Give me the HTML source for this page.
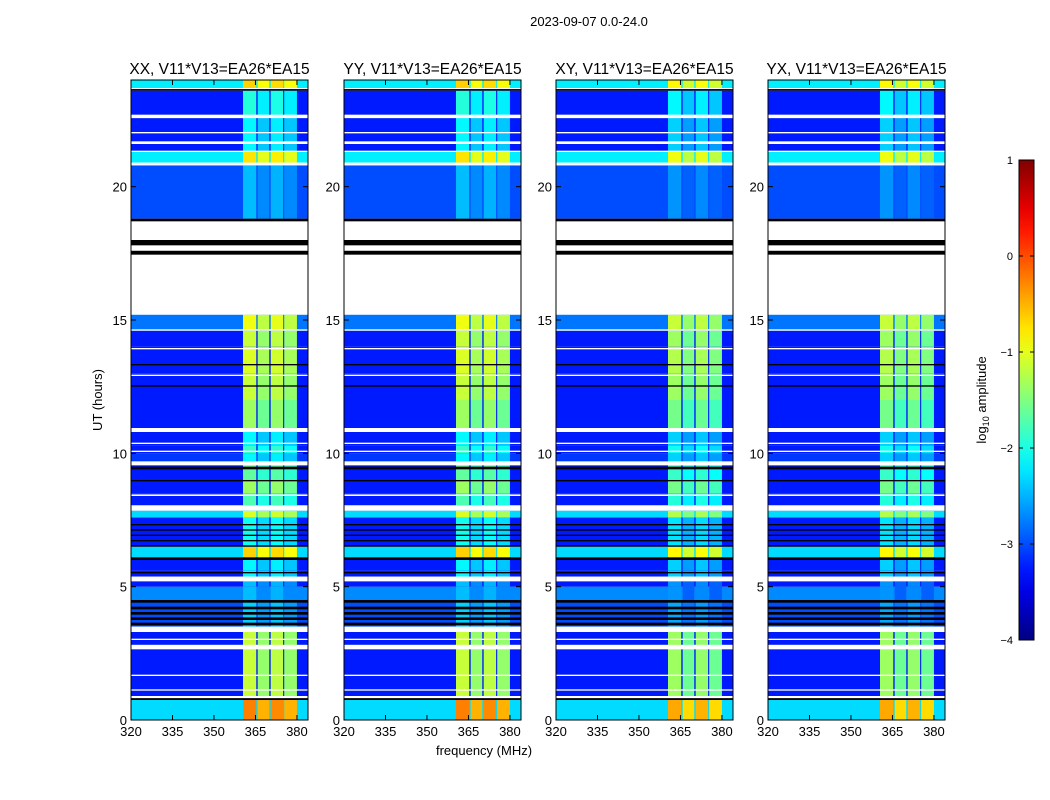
<!DOCTYPE html>
<html><head><meta charset="utf-8"><style>
body{margin:0;background:#fff;}
svg{display:block;font-family:"Liberation Sans",sans-serif;}
</style></head><body>
<svg id="fig" width="1050" height="800">
<text x="589" y="26" font-size="13" text-anchor="middle">2023-09-07 0.0-24.0</text>
<text x="484" y="755" font-size="13" text-anchor="middle">frequency (MHz)</text>
<text transform="translate(102,400) rotate(-90)" font-size="13" text-anchor="middle">UT (hours)</text>
<text transform="translate(986,400) rotate(-90)" font-size="13" text-anchor="middle">log<tspan font-size="9" dy="3">10</tspan><tspan dy="-3"> amplitude</tspan></text>
</svg>
<script>
// ---- data ----
const panelTitles = ["XX, V11*V13=EA26*EA15","YY, V11*V13=EA26*EA15","XY, V11*V13=EA26*EA15","YX, V11*V13=EA26*EA15"];
const panelBandOffset = [0, 0, -0.2, -0.2];
const xTicks = [320,335,350,365,380];
const yTicks = [0,5,10,15,20];
const cbTicks = [1,0,-1,-2,-3,-4];
// time segments [startHour, endHour, baseLog, bandLog]
const segStart = [0, 0.9, 3.5, 4.5, 5.0, 5.2, 5.6, 6.0, 6.5, 7.6, 7.85, 8.05, 8.5, 9.0, 9.6, 10.0, 10.3, 10.95, 12.0, 13.0, 14.0, 14.6, 18.8, 20.9, 21.3, 21.6, 22.0, 22.6, 23.7];
const segEnd   = [0.8, 3.3, 4.5, 5.0, 5.2, 5.6, 6.0, 6.5, 7.6, 7.85, 8.05, 8.5, 9.0, 9.6, 10.0, 10.3, 10.8, 12.0, 13.0, 14.0, 14.6, 15.2, 20.8, 21.3, 21.6, 22.0, 22.6, 23.6, 24.0];
const segBase  = [-2.3, -3.25, -3.0, -2.7, -3.25, -3.25, -3.25, -2.3, -3.25, -2.3, -2.8, -3.25, -3.25, -3.25, -3.1, -3.25, -3.25, -3.25, -3.25, -3.25, -3.25, -2.8, -3.0, -2.2, -3.25, -3.25, -3.25, -3.25, -2.2];
const segBand  = [-0.4, -1.3, -2.5, -2.6, -2.6, -2.3, -2.3, -0.8, -2.2, -1.2, -2.3, -1.9, -1.5, -1.8, -2.3, -2.0, -2.3, -1.5, -1.3, -1.2, -1.3, -1.1, -2.6, -0.9, -2.3, -2.3, -2.3, -2.1, -0.8];
// flagged rows [startHour, endHour, type] w=white k=black
const flagStart = [0.8, 0.75, 1.1, 1.65, 2.65, 3.0, 3.3, 3.55, 3.75, 3.95, 4.15, 4.4, 5.2, 5.5, 6.0, 6.5, 6.7, 6.9, 7.1, 7.3, 7.85, 8.4, 8.95, 9.4, 9.55, 10.05, 10.35, 10.8, 12.5, 12.9, 13.3, 13.9, 14.6, 15.2, 17.45, 17.6, 17.8, 18.0, 18.7, 20.8, 21.3, 21.6, 22.0, 22.57, 23.6];
const flagEnd   = [0.9, 0.82, 1.15, 1.7, 2.82, 3.05, 3.5, 3.65, 3.85, 4.05, 4.25, 4.5, 5.38, 5.55, 6.1, 6.55, 6.75, 6.95, 7.15, 7.35, 8.05, 8.46, 9.0, 9.5, 9.7, 10.1, 10.4, 10.95, 12.55, 12.95, 13.35, 13.95, 14.65, 17.45, 17.6, 17.8, 18.0, 18.7, 18.8, 20.9, 21.35, 21.7, 22.05, 22.7, 23.66];
const flagType  = ["w","k","w","w","w","w","w","k","k","k","k","k","w","k","k","k","k","k","k","k","w","w","k","k","w","w","w","w","k","w","k","w","w","w","k","w","k","w","k","w","w","w","w","w","k"];
// RFI band columns [startMHz,endMHz,offset]
const colStart = [360.5, 365.8, 370.5, 375.4];
const colEnd   = [365.3, 370.0, 375.0, 380.0];
const colOff   = [0.15, -0.1, 0.1, -0.1];

// ---- helpers ----
const NS="http://www.w3.org/2000/svg";
const svg=document.getElementById('fig');
function jet(v){
  let t=Math.max(0,Math.min(1,(v+4)/5));
  const c=x=>Math.round(255*Math.max(0,Math.min(1,1.5-Math.abs(4*t-x))));
  return `rgb(${c(3)},${c(2)},${c(1)})`;
}
function mk(tag,attrs,parent){const e=document.createElementNS(NS,tag);for(const k in attrs)e.setAttribute(k,attrs[k]);(parent||svg).appendChild(e);return e;}
const panelX=[131,344,556,768], PW=177, PT=80, PB=720;
const fMin=320, fMax=384, hMin=0, hMax=24;

panelX.forEach((px,p)=>{
  const xs=f=>px+(f-fMin)/(fMax-fMin)*PW;
  const ys=h=>PB-(h-hMin)/(hMax-hMin)*(PB-PT);
  const g=mk('g',{});
  
  
  mk('rect',{x:px,y:PT,width:PW,height:PB-PT,fill:'#fff'},g);
  for(let i=0;i<segStart.length;i++){
    const y0=ys(segEnd[i]),y1=ys(segStart[i]);
    const r=mk('rect',{x:px,y:y0,width:PW,height:y1-y0,fill:jet(segBase[i])},g);
    
    
    for(let c=0;c<colStart.length;c++){
      const bx=xs(colStart[c]);
      const cell=mk('rect',{x:bx,y:y0,width:xs(colEnd[c])-bx,height:y1-y0,fill:jet(segBand[i]+colOff[c]+panelBandOffset[p])},g);
      
      
    }
  }
  for(let i=0;i<flagStart.length;i++){
    const y0=ys(flagEnd[i]),y1=ys(flagStart[i]);
    const r=mk('rect',{x:px,y:y0,width:PW,height:Math.max(1,y1-y0),fill:flagType[i]==='w'?'#fff':'#000'},g);
    
    
  }
  mk('rect',{x:px,y:PT,width:PW,height:PB-PT,fill:'none',stroke:'#000','stroke-width':1},g);
  const t=mk('text',{x:px+PW/2,y:74,'font-size':15.5,'text-anchor':'middle'},g);
  t.textContent=panelTitles[p];
  
  
  xTicks.forEach(v=>{
    const x=xs(v);
    mk('line',{x1:x,x2:x,y1:PB,y2:PB-5,stroke:'#000'},g);
    mk('line',{x1:x,x2:x,y1:PT,y2:PT+5,stroke:'#000'},g);
    const l=mk('text',{x:x,y:PB+16,'font-size':13,'text-anchor':'middle'},g);
    l.textContent=v;
    
    
  });
  yTicks.forEach(v=>{
    const y=ys(v);
    mk('line',{x1:px,x2:px+5,y1:y,y2:y,stroke:'#000'},g);
    mk('line',{x1:px+PW,x2:px+PW-5,y1:y,y2:y,stroke:'#000'},g);
    const l=mk('text',{x:px-4,y:y+5,'font-size':13,'text-anchor':'end'},g);
    l.textContent=v;
    
    
  });
});
// colorbar
const cbX=1019,cbW=15,cbT=160,cbB=640;
const cb=mk('g',{});


const defs=mk('defs',{});
const grad=mk('linearGradient',{id:'jetg',x1:0,y1:1,x2:0,y2:0},defs);
for(let i=0;i<=20;i++){mk('stop',{offset:i/20,'stop-color':jet(-4+5*i/20)},grad);}
mk('rect',{x:cbX,y:cbT,width:cbW,height:cbB-cbT,fill:'url(#jetg)',stroke:'#000'},cb);
cbTicks.forEach(v=>{
  const y=cbB-(v+4)/5*(cbB-cbT);
  mk('line',{x1:cbX,x2:cbX+4,y1:y,y2:y,stroke:'#000'},cb);
  mk('line',{x1:cbX+cbW,x2:cbX+cbW-4,y1:y,y2:y,stroke:'#000'},cb);
  const l=mk('text',{x:1013,y:y+4,'font-size':11,'text-anchor':'end'},cb);
  l.textContent=v<0?'\u2212'+(-v):String(v);
  
  
});
</script>
</body></html>
